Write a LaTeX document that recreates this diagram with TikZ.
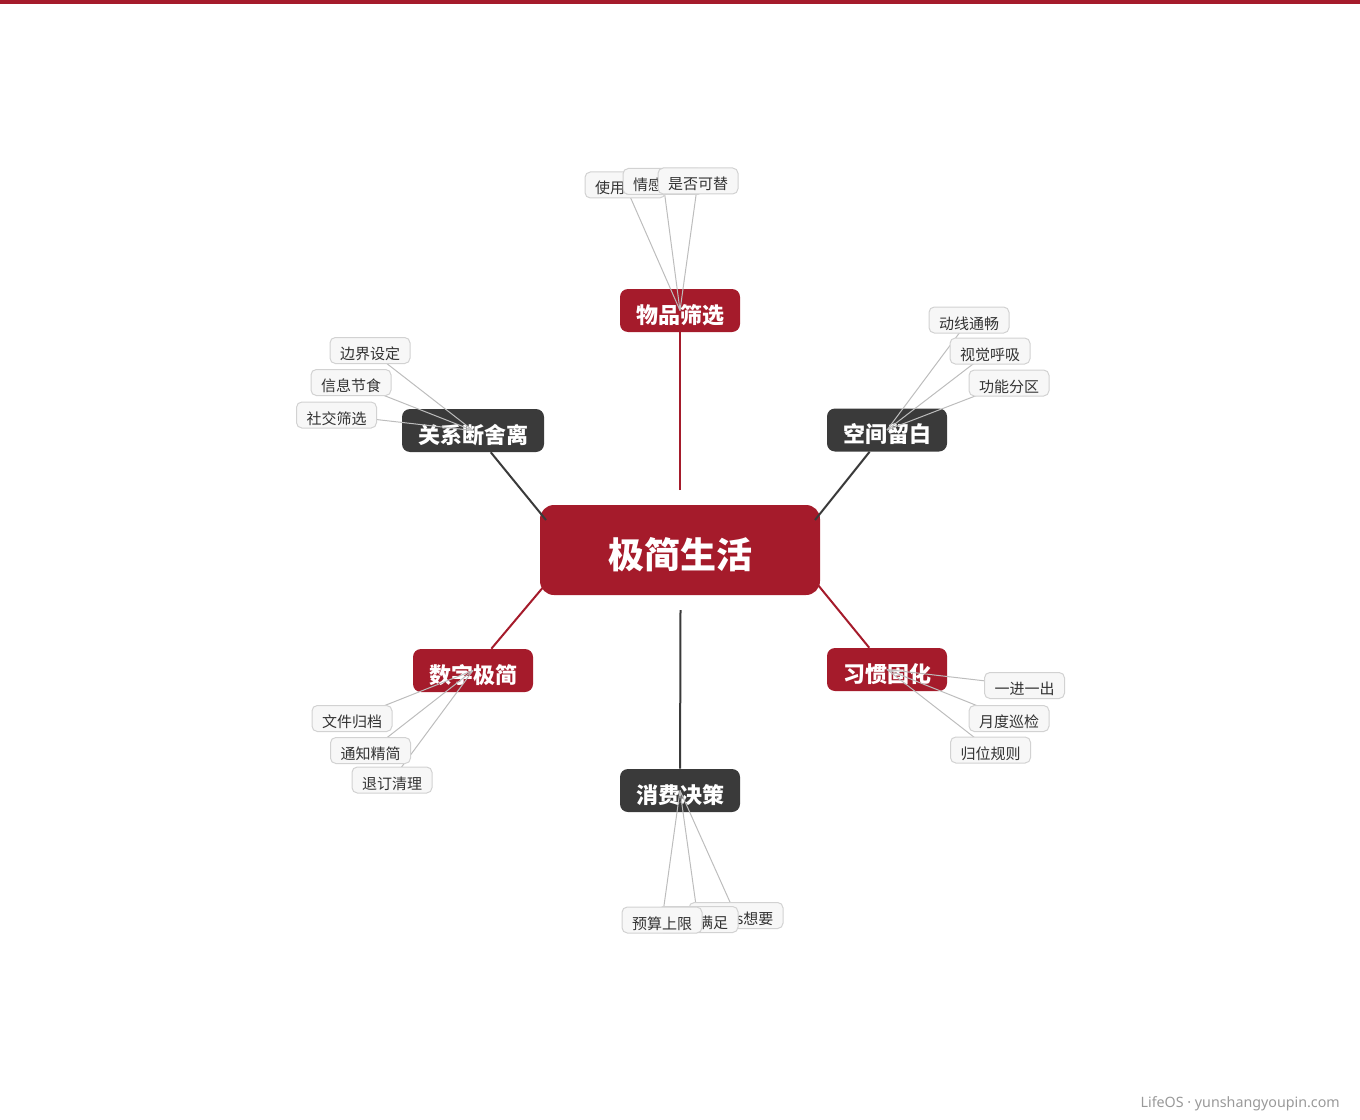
\documentclass[tikz,border=0pt]{standalone}
\usepackage{fontspec}
\setmainfont{Noto Sans CJK SC}
\newfontfamily\footfont{Noto Sans}
\definecolor{brandred}{HTML}{A51B2B}
\definecolor{darkbox}{HTML}{3A3A3A}
\definecolor{leaffill}{HTML}{F7F7F7}
\definecolor{leafdraw}{HTML}{D2D2D2}
\definecolor{leafline}{HTML}{BDBDBD}
\definecolor{leaftext}{HTML}{333333}
\definecolor{foottext}{HTML}{999999}
\begin{document}
\begin{tikzpicture}[x=0.75pt,y=-0.75pt,
  rootbox/.style={fill=brandred,rounded corners=10.5pt,minimum width=210pt,minimum height=67.5pt,inner sep=0pt,text height=28pt,text depth=0pt,text=white,font=\fontsize{27}{30}\selectfont\bfseries},
  redbox/.style={fill=brandred,rounded corners=6pt,minimum width=90pt,minimum height=32.25pt,inner sep=0pt,text height=19pt,text depth=0pt,text=white,font=\fontsize{16.5}{19}\selectfont\bfseries},
  darkbox/.style={fill=darkbox,rounded corners=6pt,minimum width=90pt,minimum height=32.25pt,inner sep=0pt,text height=19pt,text depth=0pt,text=white,font=\fontsize{16.5}{19}\selectfont\bfseries},
  leafbox/.style={fill=leaffill,draw=leafdraw,line width=0.75pt,rounded corners=4pt,minimum width=60pt,minimum height=19.5pt,inner sep=0pt,text height=13.5pt,text depth=0pt,text=leaftext,font=\fontsize{11.25}{13}\selectfont},
  redlink/.style={draw=brandred,line width=1.5pt},
  darklink/.style={draw=darkbox,line width=1.5pt},
  leaflink/.style={draw=leafline,line width=0.75pt}]
\useasboundingbox (0,0) rectangle (1360,1120);
\fill[brandred] (0,0) rectangle (1360,4);

% root and branches
\node[rootbox] (root) at (680,550) {极简生活};
\node[redbox] (b1) at (680,310.5) {物品筛选};
\node[darkbox,minimum width=106.5pt] (b2) at (473,430.5) {关系断舍离};
\node[darkbox] (b3) at (887,430) {空间留白};
\node[redbox] (b4) at (473,670.5) {数字极简};
\node[redbox] (b5) at (887,669.5) {习惯固化};
\node[darkbox] (b6) at (680,790.5) {消费决策};

% connector start points
\coordinate (c1) at (680,490);
\coordinate (c2) at (546,520);
\coordinate (c3) at (815,520);
\coordinate (c4) at (545,585);
\coordinate (c5) at (818,585);
\coordinate (c6) at (680.5,610);

\draw[redlink] (c1) -- (b1);
\draw[darklink] (c2) -- (b2);
\draw[darklink] (c3) -- (b3);
\draw[redlink] (c4) -- (b4);
\draw[redlink] (c5) -- (b5);
\draw[darklink] (c6) -- (b6);

% leaf coordinates
\coordinate (l11) at (625,185);
\coordinate (l12) at (663,181.5);
\coordinate (l13) at (698,181);
\coordinate (l21) at (370,350.5);
\coordinate (l22) at (351,382.5);
\coordinate (l23) at (336.5,415);
\coordinate (l31) at (969,320);
\coordinate (l32) at (990,351);
\coordinate (l33) at (1009,383);
\coordinate (l41) at (352,718.5);
\coordinate (l42) at (370.5,750.5);
\coordinate (l43) at (392,780);
\coordinate (l51) at (1024.5,685.5);
\coordinate (l52) at (1009,718.5);
\coordinate (l53) at (990.5,750);
\coordinate (l61) at (736,915.5);
\coordinate (l62) at (698,919.5);
\coordinate (l63) at (662,920);

% leaf links
\foreach \b/\l in {b1/l11,b1/l12,b1/l13,b2/l21,b2/l22,b2/l23,b3/l31,b3/l32,b3/l33,b4/l41,b4/l42,b4/l43,b5/l51,b5/l52,b5/l53,b6/l61,b6/l62,b6/l63}
  \draw[leaflink] (\b.center) -- (\l);

% leaves
\node[leafbox] (n11) at (l11) {使用频率};
\node[leafbox] (n12) at (l12) {情感价值};
\node[leafbox] (n13) at (l13) {是否可替};
\node[leafbox] (n21) at (l21) {边界设定};
\node[leafbox] (n22) at (l22) {信息节食};
\node[leafbox] (n23) at (l23) {社交筛选};
\node[leafbox] (n31) at (l31) {动线通畅};
\node[leafbox] (n32) at (l32) {视觉呼吸};
\node[leafbox] (n33) at (l33) {功能分区};
\node[leafbox] (n41) at (l41) {文件归档};
\node[leafbox] (n42) at (l42) {通知精简};
\node[leafbox] (n43) at (l43) {退订清理};
\node[leafbox] (n51) at (l51) {一进一出};
\node[leafbox] (n52) at (l52) {月度巡检};
\node[leafbox] (n53) at (l53) {归位规则};
\node[leafbox,minimum width=70.5pt] (n61) at (l61) {需要vs想要};
\node[leafbox] (n62) at (l62) {延迟满足};
\node[leafbox] (n63) at (l63) {预算上限};

\node[anchor=base east,inner sep=0pt,text=foottext,font=\footfont\fontsize{10.7}{12}\selectfont] (foot) at (1340,1107) {LifeOS · yunshangyoupin.com};
\end{tikzpicture}
\end{document}
